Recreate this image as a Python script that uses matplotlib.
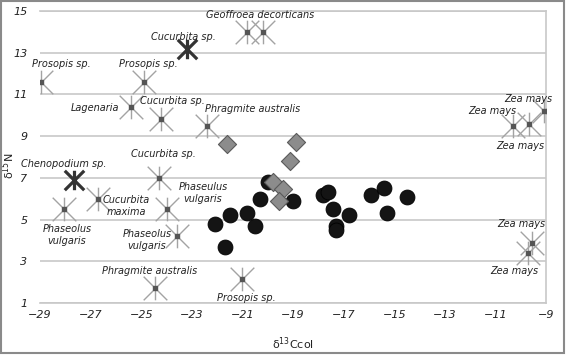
import matplotlib
matplotlib.use("Agg")
import matplotlib.pyplot as plt
from matplotlib.path import Path
from matplotlib.patches import Rectangle

# Bone collagen samples (black circles) and reference plants (stars)
human_x = [-20.0, -20.3, -19.0, -17.8, -17.6, -21.5, -20.8, -22.1, -20.5, -21.7,
           -17.4, -16.8, -17.3, -17.3, -15.9, -15.4, -14.5, -15.3]
human_y = [6.8, 6.0, 5.9, 6.2, 6.3, 5.2, 5.3, 4.8, 4.7, 3.7,
           5.5, 5.2, 4.7, 4.5, 6.2, 6.5, 6.1, 5.3]

fauna_x = [-21.6, -18.9, -19.1, -19.8, -19.4, -19.55]
fauna_y = [8.6, 8.7, 7.8, 6.8, 6.45, 5.9]

plant_x = [-28.95, -24.9, -20.8, -20.2, -25.4, -24.2, -22.4, -24.3, -26.7,
           -28.05, -24.0, -23.6, -24.45, -21.0, -10.3, -9.67, -9.08, -9.55, -9.7]
plant_y = [11.6, 11.6, 14.0, 14.0, 10.4, 9.8, 9.5, 7.0, 6.0,
           5.5, 5.5, 4.2, 1.7, 2.15, 9.5, 9.6, 10.2, 3.9, 3.4]

big_x = [-23.2, -27.66]
big_y = [13.2, 6.9]

labels = [
    ("Prosopis sp.", -28.17, 12.46),
    ("Prosopis sp.", -24.73, 12.46),
    ("Cucurbita sp.", -23.35, 13.75),
    ("Geoffroea decorticans", -20.3, 14.8),
    ("Lagenaria", -26.83, 10.35),
    ("Cucurbita sp.", -23.78, 10.68),
    ("Phragmite australis", -20.6, 10.3),
    ("Cucurbita sp.", -24.14, 8.14),
    ("Chenopodium sp.", -28.05, 7.66),
    ("Cucurbita\nmaxima", -25.6, 5.65),
    ("Phaseulus\nvulgaris", -22.56, 6.27),
    ("Phaseolus\nvulgaris", -27.93, 4.26),
    ("Phaseolus\nvulgaris", -24.77, 4.02),
    ("Phragmite australis", -24.65, 2.53),
    ("Prosopis sp.", -20.86, 1.24),
    ("Zea mays", -9.71, 10.78),
    ("Zea mays", -11.13, 10.2),
    ("Zea mays", -10.03, 8.53),
    ("Zea mays", -9.99, 4.79),
    ("Zea mays", -10.27, 2.53),
]

x_ticks = [-29, -27, -25, -23, -21, -19, -17, -15, -13, -11, -9]
y_ticks = [1, 3, 5, 7, 9, 11, 13, 15]

# asterisk like the spreadsheet "star": an X plus a vertical bar
star = Path([(0, -1), (0, 1), (-1, -1), (1, 1), (-1, 1), (1, -1)],
            [Path.MOVETO, Path.LINETO, Path.MOVETO, Path.LINETO,
             Path.MOVETO, Path.LINETO])

fig = plt.figure(figsize=(5.67, 3.56), dpi=100)
ax = fig.add_axes([40 / 567, 1 - 303 / 356, 506 / 567, 292 / 356])

ax.scatter(human_x, human_y, s=115, c="#141414", edgecolors="#000000",
           linewidths=0.6, zorder=3)
ax.scatter(fauna_x, fauna_y, s=85, marker="D", c="#8c8c8c",
           edgecolors="#5a5a5a", linewidths=0.8, zorder=4)
ax.plot(plant_x, plant_y, linestyle="none", marker=star, markersize=17,
        markeredgecolor="#a3a3a3", markeredgewidth=1.0, zorder=5)
ax.plot(plant_x, plant_y, linestyle="none", marker="s", markersize=3.2,
        color="#555555", zorder=6)
ax.plot(big_x, big_y, linestyle="none", marker=star, markersize=14,
        markeredgecolor="#333333", markeredgewidth=2.3, zorder=6)

for text, tx, ty in labels:
    ax.text(tx, ty, text, ha="center", va="center", fontsize=7,
            style="italic", color="#222222", linespacing=1.15, zorder=7)

ax.set_xlim(-29, -9)
ax.set_ylim(1, 15)
ax.set_xticks(x_ticks)
ax.set_yticks(y_ticks)
ax.tick_params(length=0, labelsize=8, labelcolor="#222222")
ax.tick_params(axis="x", pad=5)
ax.tick_params(axis="y", pad=9)
for lab in ax.get_xticklabels() + ax.get_yticklabels():
    lab.set_style("italic")
ax.grid(axis="y", color="#c8c8c8", linewidth=1.2, zorder=0)
ax.set_axisbelow(True)

for side in ["top", "bottom", "right"]:
    ax.spines[side].set_color("#c8c8c8")
    ax.spines[side].set_linewidth(1.2)
ax.spines["left"].set_visible(False)

ax.set_xlabel(r"δ$^{\mathregular{13}}$Ccol", fontsize=8, color="#222222")
ax.xaxis.set_label_coords(0.5, -0.11)
ax.set_ylabel(r"δ$^{\mathregular{15}}$N", fontsize=8, color="#222222")
ax.yaxis.set_label_coords(-0.045, 0.47)

fig.patches.append(Rectangle((0.002, 0.008), 0.992, 0.99, transform=fig.transFigure,
                             fill=False, edgecolor="#8a8a8a", linewidth=1.5))

fig.savefig("out.png", dpi=100)
